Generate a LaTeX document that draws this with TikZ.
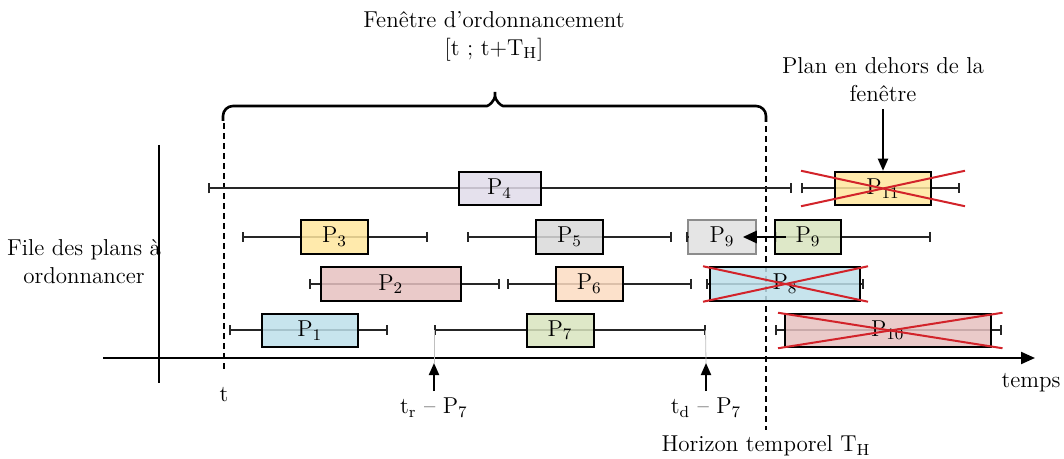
\documentclass[tikz,border=0pt]{standalone}
\usepackage{tikz}
\usetikzlibrary{arrows.meta,positioning,calc}
\definecolor{plblue}{HTML}{BDDFEA}
\definecolor{plpink}{HTML}{E6C1C0}
\definecolor{plyellow}{HTML}{FFE69E}
\definecolor{plviolet}{HTML}{E1DCEA}
\definecolor{plgray}{HTML}{D9D9D9}
\definecolor{plpeach}{HTML}{FCDCC2}
\definecolor{plgreen}{HTML}{D8E4BE}
\definecolor{plred}{HTML}{D2232A}
% one plan: name, row, left tick, box left, box right, right tick, colour, label
\newcommand{\plan}[8]{%
  \coordinate (#1l) at (#3,#2);
  \coordinate (#1r) at (#6,#2);
  \draw[whisk] (#1l) -- (#1r);
  \node[plan,fill=#7,minimum width={(#5-#4)*0.5pt}] (#1) at ({(#4+#5)/2},#2) {#8};}

\begin{document}
\begin{tikzpicture}[x=0.5pt,y=-0.5pt,
  font=\fontsize{11.5}{14}\selectfont,
  plan/.style={draw=black,line width=1pt,fill opacity=0.85,text opacity=1,
    inner sep=0pt,minimum height=16.75pt},
  whisk/.style={{Bar[width=5pt]}-{Bar[width=5pt]},line width=1pt,black!85},
  croix/.style={draw=plred,line width=1pt},
  fleche/.style={-{Triangle[length=6pt,width=5pt]},line width=1pt},
  borne/.style={dash pattern=on 3pt off 2pt,line width=0.8pt},
  guide/.style={black!25,line width=0.4pt}]
  \useasboundingbox (0,0) rectangle (1064,459);
  % axes
  \coordinate (o1) at (103,358);
  \coordinate (o2) at (1035,358);
  \draw[-{Triangle[length=7pt,width=6pt]},line width=1pt] (o1) -- (o2);
  \coordinate (v1) at (159,145);
  \coordinate (v2) at (159,383);
  \draw[line width=1pt] (v1) -- (v2);
  % window bounds
  \coordinate (t1) at (224,123);
  \coordinate (t2) at (224,370);
  \coordinate (h1) at (766,126);
  \coordinate (h2) at (766,430);
  \draw[borne] (t1) -- (t2);
  \draw[borne] (h1) -- (h2);
  \draw[line width=1.3pt,rounded corners=5pt] (223,121) -- (223,106) -- (477,106)
    .. controls (489,106) and (495,100) .. (495,86)
    .. controls (495,100) and (501,106) .. (513,106) -- (766,106) -- (766,122);
  \node[align=center] (fenetre) at (494,36) {Fenêtre d'ordonnancement\\{[}t ; t+T\textsubscript{H}{]}};
  % plans
  \plan{p4}{188.5}{207.5}{458.5}{540.5}{791.5}{plviolet}{P\textsubscript{4}}
  \plan{p11}{188.5}{801}{835}{931}{960}{plyellow}{P\textsubscript{11}}
  \plan{p3}{237}{242}{301}{368}{428}{plyellow}{P\textsubscript{3}}
  \plan{p5}{237}{467}{536}{603}{672}{plgray}{P\textsubscript{5}}
  \plan{p9b}{237}{775}{775}{841}{931}{plgreen}{P\textsubscript{9}}
  \coordinate (p9al) at (685.5,237);
  \node[plan,draw=black!45,fill=plgray!80,minimum width=33.75pt] (p9a) at (722,237) {P\textsubscript{9}};
  \draw[whisk,-] (p9al) -- (p9a);
  \draw[{Bar[width=5pt]}-,line width=1pt,black!85] (p9al) -- ++(3,0);
  \plan{p2}{284}{308.5}{321}{460.5}{500}{plpink}{P\textsubscript{2}}
  \plan{p6}{284}{506.5}{556}{622.5}{692}{plpeach}{P\textsubscript{6}}
  \plan{p8}{284}{705.5}{710}{860}{864}{plblue}{P\textsubscript{8}}
  \plan{p1}{330.5}{229}{262}{357.5}{388}{plblue}{P\textsubscript{1}}
  \plan{p7}{330.5}{434}{526.5}{593.5}{705.5}{plgreen}{P\textsubscript{7}}
  \plan{p10}{330.5}{774.5}{785}{990.5}{1002}{plpink}{P\textsubscript{10}}
  % rejected plans
  \draw[croix] ($(p11.north west)+(-33,0)$) -- ($(p11.south east)+(33,0)$);
  \draw[croix] ($(p11.south west)+(-33,0)$) -- ($(p11.north east)+(33,0)$);
  \draw[croix] ($(p8.north west)+(-6,0)$) -- ($(p8.south east)+(7,0)$);
  \draw[croix] ($(p8.south west)+(-6,0)$) -- ($(p8.north east)+(7,0)$);
  \draw[croix] ($(p10.north west)+(-6,0)$) -- ($(p10.south east)+(11,0)$);
  \draw[croix] ($(p10.south west)+(-6,0)$) -- ($(p10.north east)+(11,0)$);
  \draw[-{Triangle[length=7pt,width=6pt]},line width=1.4pt] ($(p9b.west)+(12,0)$) -- ($(p9a.east)+(-14,0)$);
  % labels
  \node[align=center] (dehors) at (883,80) {Plan en dehors de la\\fenêtre};
  \draw[fleche] (dehors) -- (p11);
  \node[align=center] (file) at (84,262) {File des plans à\\ordonnancer};
  \node (tlab) at (224,395) {t};
  \coordinate (trpt) at (434,363);
  \coordinate (tdpt) at (706,363);
  \draw[guide] (p7l) -- (trpt);
  \draw[guide] (p7r) -- (tdpt);
  \node (trlab) at (434,408) {t\textsubscript{r} – P\textsubscript{7}};
  \node (tdlab) at (706,408) {t\textsubscript{d} – P\textsubscript{7}};
  \draw[fleche] (trlab) -- (trpt);
  \draw[fleche] (tdlab) -- (tdpt);
  \node (temps) at (1031,383) {temps};
  \node (horizon) at (766,446) {Horizon temporel T\textsubscript{H}};
\end{tikzpicture}
\end{document}
